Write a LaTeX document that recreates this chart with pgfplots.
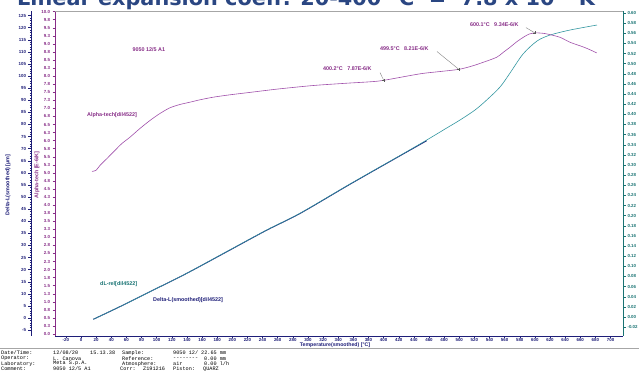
\documentclass[border=0pt]{standalone}
\usepackage{fontspec}
\setmainfont{Liberation Sans}
\setsansfont{Liberation Sans}
\setmonofont{Liberation Mono}
\newfontfamily\titlefont{DejaVu Sans}
\usepackage{graphicx}
\usepackage{pgfplots}
\pgfplotsset{compat=1.18}
\definecolor{navyC}{RGB}{30,30,120}
\definecolor{purpC}{RGB}{135,45,135}
\definecolor{purpL}{RGB}{160,80,170}
\definecolor{tealC}{RGB}{25,115,115}
\definecolor{tealL}{RGB}{50,150,160}
\definecolor{titleC}{RGB}{42,70,130}
\newcommand\tf{\fontsize{4.4}{5}\selectfont\bfseries}
\newcommand\lf{\fontsize{5.4}{6.5}\selectfont\bfseries}
\begin{document}
\begin{tikzpicture}[x=1pt,y=1pt]
% ---------- Delta-L axis (left, outer)
\begin{axis}[at={(31pt,35pt)}, anchor=south west, scale only axis,
  width=592pt, height=325pt,
  xmin=-66.1, xmax=716.5, ymin=-7.44, ymax=126.9,
  hide x axis, axis y line*=left,
  y axis line style={navyC, line width=0.6pt},
  ytick={-5,0,...,125}, minor y tick num=4,
  tick align=outside, major tick length=2.5pt, minor tick length=1.2pt,
  every tick/.style={navyC, line width=0.4pt},
  yticklabel style={font=\tf, text=navyC, xshift=1pt},
  /pgf/number format/assume math mode=true,
  clip=false]
\addplot[navyC, line width=0.9pt, smooth] coordinates {
(16.3,-0.54) (55.9,5.36) (95.6,11.55) (139.7,18.44) (192.6,27.35) (245.5,36.30)
(289.5,43.19) (355.6,55.28) (421.7,67.04) (457.0,73.27)};
\end{axis}
% ---------- dL-rel axis (right)
\begin{axis}[at={(55pt,35pt)}, anchor=south west, scale only axis,
  width=568pt, height=325pt,
  xmin=-34.4, xmax=716.5, ymin=-0.0375, ymax=0.604,
  hide x axis, axis y line*=right,
  y axis line style={tealC, line width=0.6pt},
  ytick={-0.02,0,...,0.6}, minor y tick num=1,
  tick align=outside, major tick length=2.5pt, minor tick length=1.2pt,
  every tick/.style={tealC, line width=0.4pt},
  yticklabel style={font=\tf, text=tealC, xshift=-1.5pt,
    /pgf/number format/.cd, fixed, fixed zerofill, precision=2},
  /pgf/number format/assume math mode=true,
  clip=false]
\addplot[tealL, line width=0.6pt, smooth] coordinates {
(16.3,-0.0045) (55.9,0.0237) (95.6,0.0533) (139.7,0.0862) (192.6,0.1291) (245.5,0.1717)
(289.5,0.2047) (355.6,0.2625) (421.7,0.3187) (457.0,0.3493) (483.4,0.3730) (501.0,0.3888)
(520.8,0.4085) (536.3,0.4283) (553.9,0.4539) (567.1,0.4815) (584.3,0.5190) (602.8,0.5447)
(620.0,0.5565) (646.4,0.5664) (682.1,0.5763)};
\end{axis}
% ---------- Alpha-tech axis (main)
\begin{axis}[at={(55pt,35pt)}, anchor=south west, scale only axis,
  width=568pt, height=325pt,
  xmin=-34.4, xmax=716.5, ymin=-0.06, ymax=10.02,
  axis x line*=bottom, axis y line*=left,
  x axis line style={navyC, line width=0.6pt},
  y axis line style={purpC, line width=0.6pt},
  xtick={-20,0,...,700}, minor x tick num=3,
  ytick={0,0.25,...,10},
  yticklabels={0.0,0.3,0.5,0.8,1.0,1.3,1.5,1.8,2.0,2.3,2.5,2.8,3.0,3.3,3.5,3.8,4.0,4.3,4.5,4.8,5.0,5.3,5.5,5.8,6.0,6.3,6.5,6.8,7.0,7.3,7.5,7.8,8.0,8.3,8.5,8.8,9.0,9.3,9.5,9.8,10.0},
  tick align=outside, major tick length=2.5pt, minor tick length=1.2pt,
  x tick style={navyC, line width=0.4pt},
  y tick style={purpC, line width=0.4pt},
  xticklabel style={font=\tf, text=navyC, yshift=3.5pt},
  yticklabel style={font=\tf, text=purpC, xshift=1pt},
  /pgf/number format/assume math mode=true,
  clip=false]
\addplot[purpL, line width=0.6pt, smooth] coordinates {
(14.5,5.046) (19.8,5.077) (25.1,5.232) (34.0,5.439) (44.9,5.697) (54.2,5.913) (64.8,6.108)
(78.0,6.378) (91.2,6.625) (104.4,6.842) (117.7,7.019) (130.9,7.121) (144.1,7.192) (157.3,7.266)
(174.9,7.347) (197.0,7.421) (219.0,7.483) (240.6,7.545) (263.1,7.607) (307.1,7.709) (351.2,7.780)
(382.0,7.824) (400.2,7.870) (448.1,8.071) (474.5,8.142) (499.5,8.210) (516.9,8.313) (531.8,8.430)
(549.5,8.585) (557.8,8.731) (567.1,8.895) (576.3,9.071) (584.7,9.204) (592.2,9.303) (600.1,9.340)
(608.1,9.334) (615.6,9.310) (633.2,9.204) (646.4,9.050) (666.2,8.885) (681.7,8.721)};
\addplot[only marks, mark=+, mark size=1.5pt, gray!70!black, mark options={line width=0.4pt}] coordinates {
(400.2,7.87) (499.5,8.21) (600.1,9.34)};
\draw[gray, line width=0.4pt] (axis cs:395.2,8.111) -- (axis cs:400.2,7.87);
\draw[gray, line width=0.4pt] (axis cs:470.6,8.762) -- (axis cs:499.5,8.21);
\draw[gray, line width=0.4pt] (axis cs:588.2,9.505) -- (axis cs:600.1,9.34);
\node[anchor=west, inner sep=0, text=purpC, font=\lf] at (axis cs:319.9,8.235) {400.2°C\ \ \ 7.87E-6/K};
\node[anchor=west, inner sep=0, text=purpC, font=\lf] at (axis cs:395.2,8.854) {499.5°C\ \ \ 8.21E-6/K};
\node[anchor=west, inner sep=0, text=purpC, font=\lf] at (axis cs:514.2,9.598) {600.1°C\ \ \ 9.34E-6/K};
\node[anchor=west, inner sep=0, text=purpC, font=\lf] at (axis cs:68.0,8.82) {9050 12/5 A1};
\node[anchor=west, inner sep=0, text=purpC, font=\lf] at (axis cs:7.9,6.78) {Alpha-tech[dil4522]};
\node[anchor=west, inner sep=0, text=tealC, font=\lf] at (axis cs:25.1,1.548) {dL-rel[dil4522]};
\node[anchor=west, inner sep=0, text=navyC, font=\lf] at (axis cs:95.2,1.053) {Delta-L(smoothed)[dil4522]};
\end{axis}
% ---------- frame, labels, title, footer
\draw[gray!70, line width=0.6pt] (55pt,360pt) -- (623pt,360pt);
\node[rotate=90, text=navyC, font=\lf] at (8pt,186pt) {Delta-L(smoothed) [µm]};
\node[rotate=90, text=purpC, font=\lf] at (37pt,196pt) {Alpha-tech [E-6/K]};
\node[rotate=90, text=tealC, font=\lf, anchor=north] at (637pt,208pt) {dL-rel [\%]};
\node[text=navyC, font=\fontsize{5.2}{6}\selectfont\bfseries, inner sep=0] at (335pt,25.8pt) {Temperature(smoothed) [°C]};
\node[anchor=base west, inner sep=0, text=titleC] at (17pt,365.5pt)
  {\resizebox{595pt}{!}{\titlefont\bfseries Linear expansion coeff. 20-400 °C\ \ =\ \ 7.8 x 10\textsuperscript{-6} K\textsuperscript{-1}}};
\draw[gray!70, line width=0.6pt] (0pt,22.5pt) -- (639pt,22.5pt);
\begin{scope}[every node/.style={anchor=west, inner sep=0, font=\ttfamily\fontsize{5.2}{6}\selectfont}]
\node at (1pt,18pt) {Date/Time:};
\node at (53pt,18pt) {12/08/20};
\node at (90pt,18pt) {15.13.38};
\node at (122pt,18pt) {Sample:};
\node at (173pt,18pt) {9050 12/};
\node at (201pt,18pt) {22.65 mm};
\node at (1pt,12.7pt) {Operator:};
\node at (53pt,12.7pt) {L. Canova};
\node at (122pt,12.7pt) {Reference:};
\node at (173pt,12.7pt) {--------};
\node at (204pt,12.7pt) {0.00 mm};
\node at (1pt,7.3pt) {Laboratory:};
\node at (53pt,7.3pt) {Meta S.p.A.};
\node at (122pt,7.3pt) {Atmosphere:};
\node at (173pt,7.3pt) {air};
\node at (204pt,7.3pt) {0.00 l/h};
\node at (1pt,2pt) {Comment:};
\node at (53pt,2pt) {9050 12/5 A1};
\node at (120pt,2pt) {Corr:};
\node at (143pt,2pt) {Z191216};
\node at (173pt,2pt) {Piston:};
\node at (203pt,2pt) {QUARZ};
\end{scope}
\pgfresetboundingbox
\useasboundingbox (0,0) rectangle (639pt,371pt);
\end{tikzpicture}
\end{document}
